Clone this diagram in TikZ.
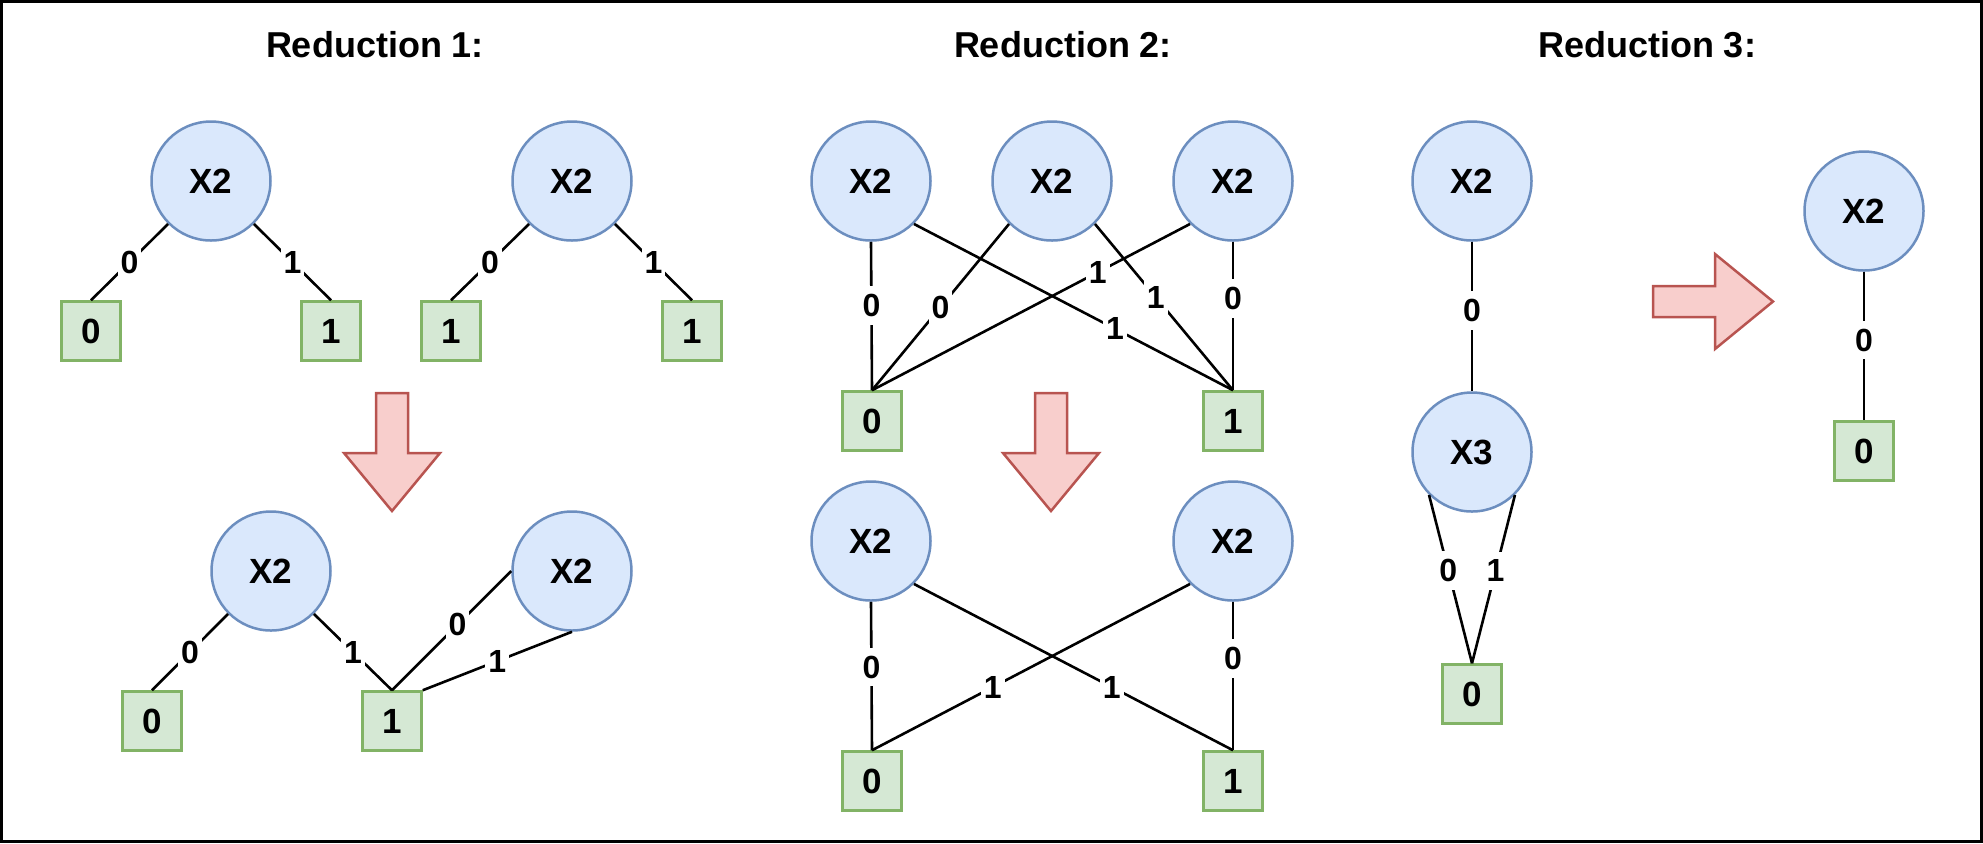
\documentclass[tikz,border=0pt]{standalone}
\usepackage{fontspec}
\setmainfont{Liberation Sans}

\definecolor{varfill}{HTML}{DAE8FC}
\definecolor{vardraw}{HTML}{6C8EBF}
\definecolor{leaffill}{HTML}{D5E8D4}
\definecolor{leafdraw}{HTML}{82B366}
\definecolor{pfeilfill}{HTML}{F8CECC}
\definecolor{pfeildraw}{HTML}{B85450}

\tikzset{
    var/.style={circle, draw=vardraw, fill=varfill, line width=1.25pt, minimum size=59.5pt, inner sep=0pt, font=\fontsize{17.5}{20}\selectfont\bfseries},
    leaf/.style={rectangle, draw=leafdraw, fill=leaffill, line width=1.25pt, minimum size=29.5pt, inner sep=0pt, font=\fontsize{17.5}{20}\selectfont\bfseries},
    kante/.style={line width=1.3pt},
    lab/.style={fill=white, inner xsep=1.5pt, inner ysep=4pt, font=\fontsize{16}{18}\selectfont\bfseries},
    titel/.style={font=\fontsize{18}{22}\selectfont\bfseries},
    pfeil/.style={draw=pfeildraw, fill=pfeilfill, line width=1.25pt, line join=miter}
}

\begin{document}
\begin{tikzpicture}[x=0.5pt, y=-0.5pt]
    \useasboundingbox (0,0) rectangle (1983,843);
    \draw[line width=1.5pt] (1.5,1.5) rectangle (1981.5,841.5);  % Rahmen

    % Ueberschriften
    \node[titel] (t1) at (375,45) {Reduction 1:};
    \node[titel] (t2) at (1063,45) {Reduction 2:};
    \node[titel] (t3) at (1647,45) {Reduction 3:};

    % Variablenknoten
    \foreach \name/\xPos/\yPos/\txt in {r1a/211/181/X2, r1b/572/181/X2,
                                       r1g/271/571/X2, r1h/572/571/X2,
                                       r2a/871/181/X2, r2b/1052/181/X2, r2c/1233/181/X2,
                                       r2f/871/541/X2, r2g/1233/541/X2,
                                       r3a/1472/181/X2, r3b/1472/452/X3,
                                       r3d/1864/211/X2}
        \node[var] (\name) at (\xPos,\yPos) {\txt};

    % Blaetter
    \foreach \name/\xPos/\yPos/\txt in {r1c/91/331/0, r1d/331/331/1, r1e/451/331/1, r1f/692/331/1,
                                       r1i/152/721/0, r1j/392/721/1,
                                       r2d/872/421/0, r2e/1233/421/1,
                                       r2h/872/781/0, r2i/1233/781/1,
                                       r3c/1472/694/0, r3e/1864/451/0}
        \node[leaf] (\name) at (\xPos,\yPos) {\txt};

    % Kanten mit Beschriftung
    \foreach \von/\nach/\wert/\p in {r1a.-135/r1c.north/0/.5, r1a.-45/r1d.north/1/.5,
                                    r1b.-135/r1e.north/0/.5, r1b.-45/r1f.north/1/.5,
                                    r1g.-135/r1i.north/0/.5, r1g.-45/r1j.north/1/.5,
                                    r1h.west/r1j.north/0/.45, r1h.south/r1j.north east/1/.5,
                                    r2a.south/r2d.north/0/.43, r2a.-45/r2e.north/1/.63,
                                    r2b.-135/r2d.north/0/.5, r2b.-45/r2e.north/1/.44,
                                    r2c.-135/r2d.north/1/.29, r2c.south/r2e.north/0/.38,
                                    r2f.south/r2h.north/0/.44, r2f.-45/r2i.north/1/.62,
                                    r2g.-135/r2h.north/1/.62, r2g.south/r2i.north/0/.38,
                                    r3a.south/r3b.north/0/.46,
                                    r3b.-135/r3c.north/0/.45, r3b.-45/r3c.north/1/.45,
                                    r3d.south/r3e.north/0/.46}
        \draw[kante] (\von) -- node[lab, pos=\p] {\wert} (\nach);

    % Pfeile nach unten
    \foreach \xPos in {392, 1051}
        \draw[pfeil] (\xPos-16,393) -- (\xPos+16,393) -- (\xPos+16,453) -- (\xPos+48,453)
            -- (\xPos,511) -- (\xPos-48,453) -- (\xPos-16,453) -- cycle;

    % Pfeil nach rechts
    \draw[pfeil] (1653,286) -- (1715,286) -- (1715,254) -- (1773,301.5)
        -- (1715,349) -- (1715,317) -- (1653,317) -- cycle;
\end{tikzpicture}
\end{document}
